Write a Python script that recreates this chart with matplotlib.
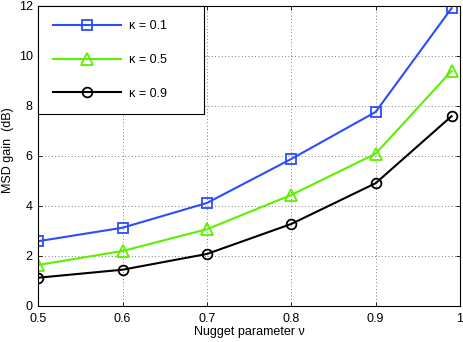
import matplotlib
matplotlib.use("Agg")
import matplotlib.pyplot as plt

nu = [0.5, 0.6, 0.7, 0.8, 0.9, 0.99]
gain_k01 = [2.58, 3.12, 4.11, 5.87, 7.75, 11.9]
gain_k05 = [1.63, 2.19, 3.06, 4.43, 6.08, 9.39]
gain_k09 = [1.12, 1.44, 2.07, 3.27, 4.90, 7.58]
labels = ["κ = 0.1", "κ = 0.5", "κ = 0.9"]
xticks = [0.5, 0.6, 0.7, 0.8, 0.9, 1.0]
xticklabels = ["0.5", "0.6", "0.7", "0.8", "0.9", "1"]
yticks = [0, 2, 4, 6, 8, 10, 12]

plt.rcParams['font.family'] = ['Liberation Sans', 'DejaVu Sans']
plt.rcParams['font.size'] = 9

fig = plt.figure(figsize=(4.63, 3.42), dpi=100)
ax = fig.add_axes([38.3/463, 1 - 305.7/342, (460 - 38.3)/463, 300/342])

ax.plot(nu, gain_k01, color='#2b4cff', lw=1.5, marker='s', ms=7, mfc='none', mew=1.3, label=labels[0])
ax.plot(nu, gain_k05, color='#5cf000', lw=1.5, marker='^', ms=8, mfc='none', mew=1.3, label=labels[1])
ax.plot(nu, gain_k09, color='black', lw=1.5, marker='o', ms=7, mfc='none', mew=1.3, label=labels[2])

ax.set_xlim(0.5, 1.0)
ax.set_ylim(0, 12)
ax.set_xticks(xticks)
ax.set_xticklabels(xticklabels)
ax.set_yticks(yticks)
ax.grid(True, linestyle=(0, (1, 3)), color='#555555', lw=0.6)
ax.tick_params(direction='in', top=True, right=True, length=3, width=0.6)
ax.tick_params(axis='x', pad=5)
ax.tick_params(axis='y', pad=4)
for s in ax.spines.values():
    s.set_linewidth(0.8)

ax.set_xlabel("Nugget parameter ν", labelpad=1)
ax.set_ylabel("MSD gain  (dB)")
ax.yaxis.set_label_coords(-0.057, 0.52)

leg = ax.legend(loc='upper left', bbox_to_anchor=(0, 0, 166/421.7, 1), mode='expand',
                handlelength=5.45, borderaxespad=0.0, labelspacing=1.75,
                fancybox=False, edgecolor='black', framealpha=1, borderpad=1.15, handletextpad=0.65)
leg.get_frame().set_linewidth(0.8)

fig.savefig("out.png", dpi=100)
